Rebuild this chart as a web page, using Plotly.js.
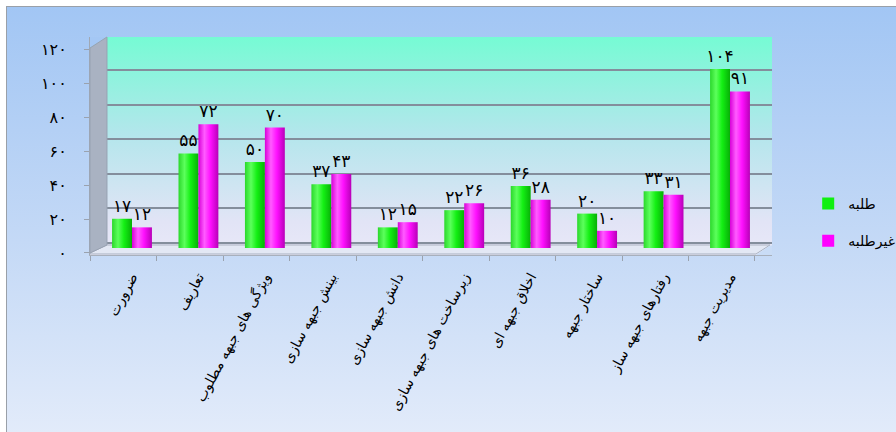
<!DOCTYPE html>
<html>
<head>
<meta charset="utf-8">
<script src="https://cdn.plot.ly/plotly-3.0.1.min.js"></script>
<style>
  html, body { margin: 0; padding: 0; background: #ffffff; }
  #frame {
    position: absolute; left: 6px; top: 6px; width: 890px; height: 426px;
    border-left: 1px solid #9aa0a8; border-top: 1px solid #9aa0a8;
    background: linear-gradient(to bottom, #a2c6f4 0%, #c4d9f6 55%, #e2ebfa 100%);
  }
  #chart { position: absolute; left: 0; top: 0; width: 896px; height: 432px; }
</style>
</head>
<body>
<div id="frame"></div>
<div id="chart"></div>
<script>
// Survey results per topic, two respondent groups
const categories = [
  'ضرورت',
  'تعاریف',
  'ویژگی های جبهه مطلوب',
  'بینش جبهه سازی',
  'دانش جبهه سازی',
  'زیرساخت های جبهه سازی',
  'اخلاق جبهه ای',
  'ساختار جبهه',
  'رفتارهای جبهه ساز',
  'مدیریت جبهه'
];
const seriesNames = ['طلبه', 'غیرطلبه'];
const talabehValues = [17, 55, 50, 37, 12, 22, 36, 20, 33, 104];
const ghairTalabehValues = [12, 72, 70, 43, 15, 26, 28, 10, 31, 91];
const yTickValues = [0, 20, 40, 60, 80, 100, 120];

// Persian (Extended Arabic-Indic) digits for all numeric text
const faDigits = '۰۱۲۳۴۵۶۷۸۹';
const toFa = n => String(n).replace(/[0-9]/g, d => faDigits[+d]);

const FONT = '"DejaVu Sans", sans-serif';

// plot area in pixels: x 90..772, y 37..255
const L = 90, R = 772, T = 37, B = 255;
const W = R - L, H = B - T;
const fx = px => (px - L) / W;
const fy = py => (B - py) / H;
const pathOf = pts => 'M' + pts.map(p => fx(p[0]).toFixed(4) + ',' + fy(p[1]).toFixed(4)).join('L') + 'Z';

const barTrace = (name, values, color) => ({
  type: 'bar',
  name: name,
  legendgroup: name,
  x: categories,
  y: values,
  text: values.map(toFa),
  textposition: 'outside',
  textangle: 0,
  constraintext: 'none',
  cliponaxis: false,
  textfont: { family: FONT, size: 17, color: '#000000' },
  marker: { color: color, line: { width: 0 } },
  hoverinfo: 'x+y'
});

// empty traces that register the overlay axes (grid and value labels)
const axisHolder = (xa, ya) => ({
  type: 'scatter', mode: 'markers', x: [], y: [],
  xaxis: xa, yaxis: ya, showlegend: false, hoverinfo: 'skip'
});

const data = [
  barTrace(seriesNames[0], talabehValues, '#10f010'),
  barTrace(seriesNames[1], ghairTalabehValues, '#ff00ff'),
  axisHolder('x', 'y2'),
  axisHolder('x2', 'y3')
];

const layout = {
  width: 896,
  height: 432,
  autosize: false,
  margin: { l: L, r: 896 - R, t: T, b: 432 - B, pad: 0 },
  paper_bgcolor: 'rgba(0,0,0,0)',
  plot_bgcolor: '#c8eef0',
  barmode: 'group',
  bargap: 0.4,
  bargroupgap: 0,
  showlegend: true,
  legend: {
    xref: 'container', yref: 'container',
    x: 0.902, y: 0.565, xanchor: 'left', yanchor: 'top',
    bgcolor: 'rgba(0,0,0,0)',
    font: { family: FONT, size: 14, color: '#000000' },
    tracegroupgap: 16
  },
  xaxis: {
    type: 'category',
    range: [-0.632, 9.632],
    showgrid: false, zeroline: false, showline: false,
    ticks: '',
    tickangle: -62,
    ticklabelstandoff: 10,
    tickfont: { family: FONT, size: 14, color: '#000000' }
  },
  xaxis2: {
    type: 'linear',
    overlaying: 'x', anchor: 'y', side: 'bottom',
    range: [-0.632, 9.632],
    tick0: 0.376, dtick: 1,
    ticks: 'outside', ticklen: 5, tickcolor: '#9aa2ae', tickwidth: 1,
    showticklabels: false,
    showgrid: false, zeroline: false,
    showline: true, linecolor: '#a8b0bc', linewidth: 1
  },
  // bar scale
  yaxis: {
    range: [-4.07, 122.67],
    visible: false,
    showgrid: false, zeroline: false
  },
  // back wall grid
  yaxis2: {
    overlaying: 'y', anchor: 'x',
    range: [-6.94, 119.08],
    tick0: 0, dtick: 20,
    showgrid: true, gridcolor: '#848e9c', gridwidth: 2,
    showticklabels: false, ticks: '',
    zeroline: false, showline: false
  },
  // value axis labels
  yaxis3: {
    overlaying: 'y', anchor: 'x2', side: 'left',
    range: [-1.18, 127.06],
    tickmode: 'array',
    tickvals: yTickValues,
    ticktext: yTickValues.map(toFa),
    ticks: 'outside', ticklen: 5, tickcolor: '#9aa2ae', tickwidth: 1,
    ticklabelstandoff: 14,
    tickfont: { family: FONT, size: 16, color: '#000000' },
    showgrid: false, zeroline: false,
    showline: true, linecolor: '#a0a8b4', linewidth: 1
  },
  shapes: [
    // sky corner above the side wall
    { type: 'path', xref: 'paper', yref: 'paper', layer: 'above',
      path: pathOf([[L, T], [107, T], [L, 48]]),
      fillcolor: '#a4c7f4', line: { width: 0 } },
    // left side wall
    { type: 'path', xref: 'paper', yref: 'paper', layer: 'above',
      path: pathOf([[L, 48], [107, T], [107, 245], [L, 253]]),
      fillcolor: '#a9b2c2', line: { color: '#98a2b2', width: 1 } },
    // floor
    { type: 'path', xref: 'paper', yref: 'paper', layer: 'below',
      path: pathOf([[L, 253], [107, 245], [770, 245], [756, 254], [L, 254]]),
      fillcolor: '#e3e8f4', line: { color: '#aab2c0', width: 1 } },
    // backdrop right of the floor's front corner
    { type: 'path', xref: 'paper', yref: 'paper', layer: 'below',
      path: pathOf([[770, 245.5], [R, 245.5], [R, B], [756, B]]),
      fillcolor: '#c9dcf6', line: { width: 0 } }
  ]
};

const gd = document.getElementById('chart');
Plotly.newPlot(gd, data, layout, { staticPlot: true, displayModeBar: false }).then(() => {
  const svg = gd.querySelector('svg.main-svg');
  const ns = 'http://www.w3.org/2000/svg';
  let defs = svg.querySelector('defs');
  if (!defs) { defs = document.createElementNS(ns, 'defs'); svg.insertBefore(defs, svg.firstChild); }

  const addGradient = (id, vertical, stops) => {
    const g = document.createElementNS(ns, 'linearGradient');
    g.setAttribute('id', id);
    g.setAttribute('x1', '0'); g.setAttribute('y1', '0');
    g.setAttribute('x2', vertical ? '0' : '1'); g.setAttribute('y2', vertical ? '1' : '0');
    stops.forEach(([off, col]) => {
      const s = document.createElementNS(ns, 'stop');
      s.setAttribute('offset', off);
      s.setAttribute('stop-color', col);
      g.appendChild(s);
    });
    defs.appendChild(g);
  };

  // back wall: aquamarine fading to pale lavender
  addGradient('wallGrad', true, [['0', '#76fbd4'], ['0.45', '#b4e6ec'], ['0.85', '#e2e4f6'], ['1', '#e9e9f8']]);
  // cylinder shading for the bars
  addGradient('greenCyl', false, [['0', '#2bd82b'], ['0.3', '#5cff5c'], ['0.6', '#14f014'], ['1', '#07b007']]);
  addGradient('magentaCyl', false, [['0', '#d800d8'], ['0.3', '#ff5cff'], ['0.6', '#ff10ff'], ['1', '#b800b8']]);

  gd.querySelectorAll('rect.bg').forEach(r => { r.style.fill = 'url(#wallGrad)'; });
  const traces = gd.querySelectorAll('.barlayer .trace.bars');
  const fills = ['url(#greenCyl)', 'url(#magentaCyl)'];
  traces.forEach((t, i) => {
    t.querySelectorAll('.point path').forEach(p => { p.style.fill = fills[i] || p.style.fill; });
  });
});
</script>
</body>
</html>
